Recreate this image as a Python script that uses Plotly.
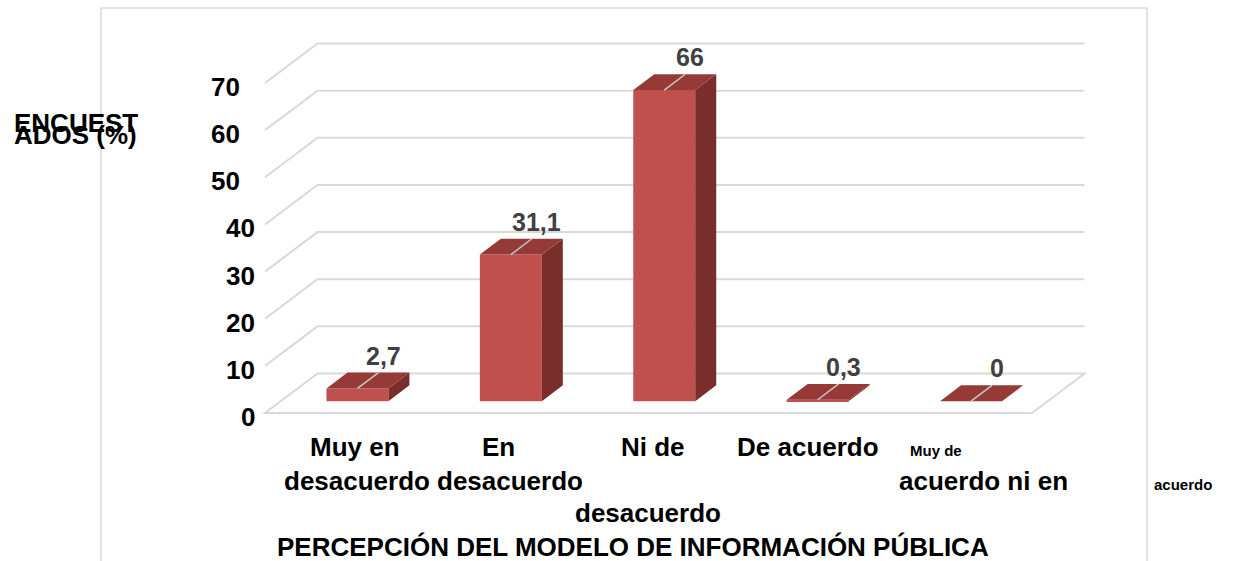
import plotly.graph_objects as go

# data
categories = ["Muy en desacuerdo", "En desacuerdo", "Ni de acuerdo ni en desacuerdo",
              "De acuerdo", "Muy de acuerdo"]
values = [2.7, 31.1, 66, 0.3, 0]
value_labels = ["2,7", "31,1", "66", "0,3", "0"]
ticks = [0, 10, 20, 30, 40, 50, 60, 70]

W, H = 1257, 561
FONT = "Liberation Sans, Arial, sans-serif"

# pseudo 3D projection (x in category units, y in value units, z = depth 0..1)
DZX, DZY = 0.3422, 8.379
Z_FRONT, Z_BACK = 0.3, 0.7
HALF = 0.202
FRONT_C, TOP_C, SIDE_C = "#C0504D", "#963A38", "#7A2E2C"
GRID_C = "#D9D9D9"


def proj(x, v, z):
    return x + z * DZX, v + z * DZY


def px(x):
    return x / W


def py(y):
    return 1 - y / H


fig = go.Figure()

# walls / gridlines, kept below the bars
left, right = -0.5, len(categories) - 0.5
shapes = []
for t in ticks:
    if t == 0:
        pts = [proj(left, 0, 1), proj(right, 0, 1), proj(right, 0, 0), proj(left, 0, 0),
               proj(left, 0, 1)]
    else:
        pts = [proj(left, t, 0), proj(left, t, 1), proj(right, t, 1)]
    path = "M " + " L ".join(f"{x},{y}" for x, y in pts)
    shapes.append(dict(type="path", path=path, xref="x", yref="y", layer="below",
                       line=dict(color=GRID_C, width=2)))

# front faces
pos = list(range(len(categories)))
fig.add_trace(go.Bar(x=[p + Z_FRONT * DZX for p in pos], y=values, base=Z_FRONT * DZY,
                     width=2 * HALF, marker=dict(color=FRONT_C, line=dict(width=0)),
                     hoverinfo="skip"))

# side and top faces
for i, v in zip(pos, values):
    top = [proj(i - HALF, v, Z_FRONT), proj(i + HALF, v, Z_FRONT),
           proj(i + HALF, v, Z_BACK), proj(i - HALF, v, Z_BACK), proj(i - HALF, v, Z_FRONT)]
    side = [proj(i + HALF, 0, Z_FRONT), proj(i + HALF, v, Z_FRONT),
            proj(i + HALF, v, Z_BACK), proj(i + HALF, 0, Z_BACK), proj(i + HALF, 0, Z_FRONT)]
    if v > 0:
        fig.add_trace(go.Scatter(x=[p[0] for p in side], y=[p[1] for p in side], mode="lines",
                                 fill="toself", fillcolor=SIDE_C, line=dict(width=0),
                                 hoverinfo="skip"))
    fig.add_trace(go.Scatter(x=[p[0] for p in top], y=[p[1] for p in top], mode="lines",
                             fill="toself", fillcolor=TOP_C, line=dict(width=0),
                             hoverinfo="skip"))
    a, b = proj(i, v, Z_FRONT), proj(i, v, Z_BACK)
    fig.add_trace(go.Scatter(x=[a[0], b[0]], y=[a[1], b[1]], mode="lines",
                             line=dict(color="#C8C8C8", width=1.5), hoverinfo="skip"))

annotations = []
# value labels
for i, v, lab in zip(pos, values, value_labels):
    x, y = proj(i, v, Z_BACK)
    annotations.append(dict(x=x, y=y, xref="x", yref="y", text=lab, showarrow=False,
                            xanchor="center", yanchor="middle", xshift=5, yshift=17,
                            font=dict(family=FONT, size=25, color="#404040", weight="bold")))

# tick labels
for t in ticks:
    x, y = proj(left, t, 0)
    annotations.append(dict(x=x, y=y, xref="x", yref="y", text=str(t), showarrow=False,
                            xanchor="right", yanchor="middle",
                            xshift=-23 if t >= 50 else -8, yshift=-4,
                            font=dict(family=FONT, size=26, color="black", weight="bold")))

# category label fragments as they appear in the picture
fragments = [
    ("Muy en", 355, 447, 26), ("desacuerdo", 357, 481, 26),
    ("En", 498, 447, 26), ("desacuerdo", 510, 481, 26),
    ("Ni de", 653, 447, 26), ("desacuerdo", 648, 513, 26),
    ("De acuerdo", 808, 447, 26),
    ("Muy de", 936, 450, 15), ("acuerdo ni en", 983, 481, 26),
    ("acuerdo", 1183, 484, 15),
    ("PERCEPCIÓN DEL MODELO DE INFORMACIÓN PÚBLICA", 633, 547, 26),
]
for text, cx, cy, size in fragments:
    annotations.append(dict(x=px(cx), y=py(cy), xref="paper", yref="paper", text=text,
                            showarrow=False, xanchor="center", yanchor="middle",
                            font=dict(family=FONT, size=size, color="black", weight="bold")))

# y axis title, two overlapping lines
for text, cy in [("ENCUEST", 123), ("ADOS (%)", 135)]:
    annotations.append(dict(x=px(12), y=py(cy), xref="paper", yref="paper", text=text,
                            showarrow=False, xanchor="left", yanchor="middle",
                            font=dict(family=FONT, size=26, color="black", weight="bold")))

shapes.append(dict(type="rect", xref="paper", yref="paper", x0=px(101), x1=px(1147),
                   y0=py(570), y1=py(8), layer="below", line=dict(color=GRID_C, width=1.5)))

x0 = -341.7 / 153.4
y1 = 413 / 4.714
fig.update_layout(
    width=W, height=H, margin=dict(l=0, r=0, t=0, b=0),
    paper_bgcolor="white", plot_bgcolor="white", showlegend=False,
    xaxis=dict(visible=False, range=[x0, x0 + W / 153.4], fixedrange=True),
    yaxis=dict(visible=False, range=[y1 - H / 4.714, y1], fixedrange=True),
    annotations=annotations,
    shapes=shapes,
)

fig.write_html("out.html", config={"displayModeBar": False},
               post_script="document.body.style.margin='0';")
